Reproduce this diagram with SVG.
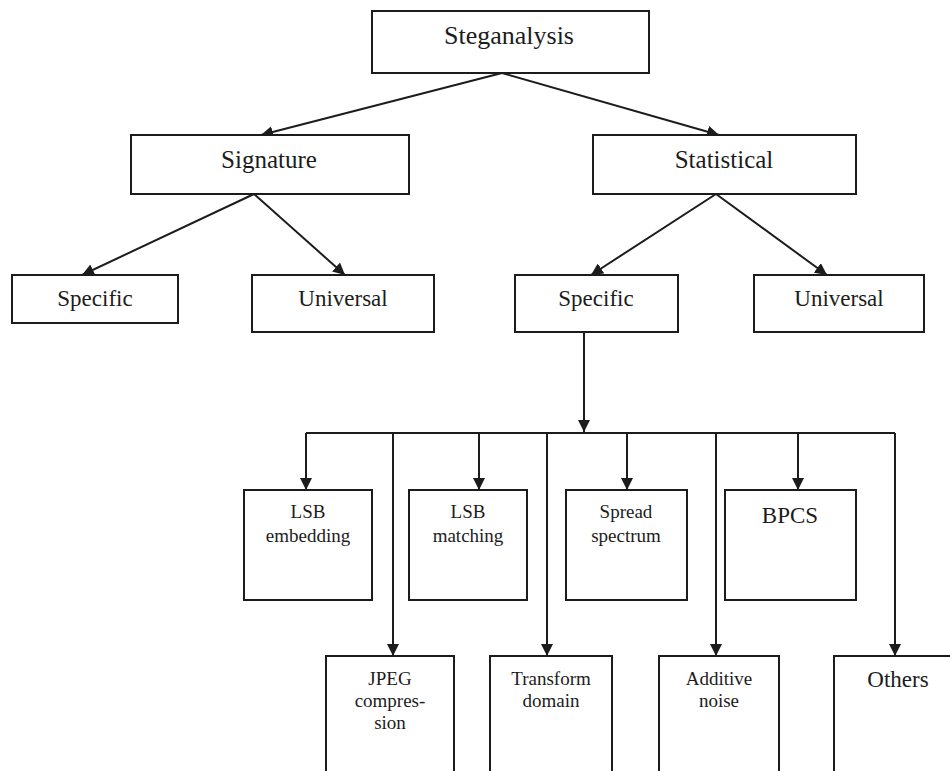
<svg xmlns="http://www.w3.org/2000/svg" width="950" height="771" viewBox="0 0 950 771">
<style>
.box{fill:#fff;stroke:#1c1c1c;stroke-width:2}
.t{font-family:"Liberation Serif","Times New Roman",serif;fill:#1c1c1c;text-anchor:middle}
.big{font-size:26px}
.mid{font-size:25px}
.row{font-size:23px}
.sm{font-size:19px}
.ln{stroke:#1c1c1c;stroke-width:2;fill:none}
</style>
<defs>
<marker id="ah" markerUnits="userSpaceOnUse" markerWidth="12" markerHeight="12" viewBox="0 0 12 12" refX="12" refY="6" orient="auto">
<path d="M0,0 L12,6 L0,12 z" fill="#1c1c1c"/>
</marker>
</defs>
<rect width="950" height="771" fill="#fff"/>
<g id="connectors">
<line class="ln" x1="502" y1="73" x2="261" y2="135" marker-end="url(#ah)"/>
<line class="ln" x1="502" y1="73" x2="719" y2="135" marker-end="url(#ah)"/>
<line class="ln" x1="254" y1="194" x2="82" y2="275" marker-end="url(#ah)"/>
<line class="ln" x1="254" y1="194" x2="345" y2="275" marker-end="url(#ah)"/>
<line class="ln" x1="716" y1="194" x2="591" y2="275" marker-end="url(#ah)"/>
<line class="ln" x1="716" y1="194" x2="827" y2="275" marker-end="url(#ah)"/>
<line class="ln" x1="584" y1="332" x2="584" y2="432" marker-end="url(#ah)"/>
<path class="ln" d="M306,433 H895" stroke-width="3"/>
<line class="ln" x1="306" y1="433" x2="306" y2="490" marker-end="url(#ah)"/>
<line class="ln" x1="479" y1="433" x2="479" y2="490" marker-end="url(#ah)"/>
<line class="ln" x1="627" y1="433" x2="627" y2="490" marker-end="url(#ah)"/>
<line class="ln" x1="798" y1="433" x2="798" y2="490" marker-end="url(#ah)"/>
<line class="ln" x1="393" y1="433" x2="393" y2="656" marker-end="url(#ah)"/>
<line class="ln" x1="547" y1="433" x2="547" y2="656" marker-end="url(#ah)"/>
<line class="ln" x1="716" y1="433" x2="716" y2="656" marker-end="url(#ah)"/>
<line class="ln" x1="895" y1="433" x2="895" y2="656" marker-end="url(#ah)"/>
</g>
<g id="steganalysis"><rect class="box" x="372" y="11" width="277" height="62"/><text class="t big" x="509" y="44">Steganalysis</text></g>
<g id="signature"><rect class="box" x="131" y="135" width="278" height="59"/><text class="t mid" x="269" y="168">Signature</text></g>
<g id="statistical"><rect class="box" x="593" y="135" width="263" height="59"/><text class="t mid" x="724" y="168">Statistical</text></g>
<g id="sig-specific"><rect class="box" x="12" y="275" width="166" height="48"/><text class="t row" x="95" y="306">Specific</text></g>
<g id="sig-universal"><rect class="box" x="252" y="275" width="182" height="57"/><text class="t row" x="343" y="306">Universal</text></g>
<g id="stat-specific"><rect class="box" x="515" y="275" width="163" height="57"/><text class="t row" x="596" y="306">Specific</text></g>
<g id="stat-universal"><rect class="box" x="754" y="275" width="170" height="57"/><text class="t row" x="839" y="306">Universal</text></g>
<g id="lsb-embedding"><rect class="box" x="244" y="490" width="128" height="110"/><text class="t sm" x="308" y="518">LSB</text><text class="t sm" x="308" y="542">embedding</text></g>
<g id="lsb-matching"><rect class="box" x="409" y="490" width="118" height="110"/><text class="t sm" x="468" y="518">LSB</text><text class="t sm" x="468" y="542">matching</text></g>
<g id="spread-spectrum"><rect class="box" x="566" y="490" width="121" height="110"/><text class="t sm" x="626" y="518">Spread</text><text class="t sm" x="626" y="542">spectrum</text></g>
<g id="bpcs"><rect class="box" x="725" y="490" width="131" height="110"/><text class="t row" x="790" y="523">BPCS</text></g>
<g id="jpeg"><rect class="box" x="326" y="656" width="128" height="140"/><text class="t sm" x="390" y="685">JPEG</text><text class="t sm" x="390" y="707">compres-</text><text class="t sm" x="390" y="729">sion</text></g>
<g id="transform"><rect class="box" x="490" y="656" width="122" height="140"/><text class="t sm" x="551" y="685">Transform</text><text class="t sm" x="551" y="707">domain</text></g>
<g id="additive"><rect class="box" x="659" y="656" width="120" height="140"/><text class="t sm" x="719" y="685">Additive</text><text class="t sm" x="719" y="707">noise</text></g>
<g id="others"><rect class="box" x="834" y="656" width="140" height="140"/><text class="t row" x="898" y="687">Others</text></g>
</svg>
